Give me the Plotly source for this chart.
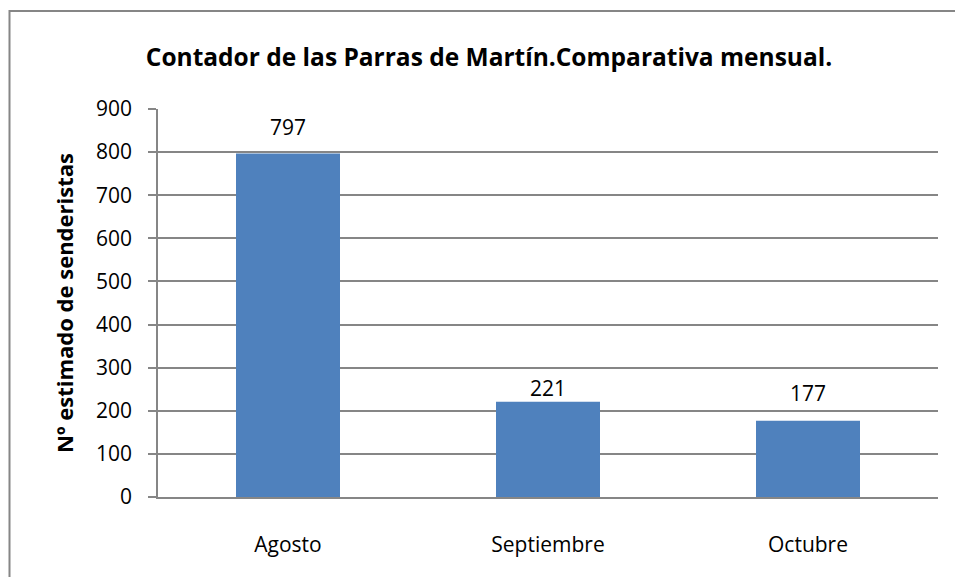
import plotly.graph_objects as go

categories = ["Agosto", "Septiembre", "Octubre"]
values = [797, 221, 177]
y_ticks = [0, 100, 200, 300, 400, 500, 600, 700, 800, 900]

title_text = "Contador de las Parras de Martín.Comparativa mensual."
y_title = "Nº estimado de senderistas"

W, H = 955, 577
L, R, T, B = 158, 17, 109, 80
pw, ph = W - L - R, H - T - B
FONT = "Open Sans, sans-serif"
label_shifts = [10, -2, 12]

def px_x(x):
    return (x - L) / pw

def px_y(y):
    return (H - B - y) / ph

fig = go.Figure()
fig.add_trace(go.Bar(
    x=categories, y=values, width=0.4,
    marker=dict(color="#4F81BD", line=dict(width=0)),
    hoverinfo="skip",
))

annotations = [
    dict(x=c, y=v, xref="x", yref="y", text=str(v), showarrow=False,
         yanchor="bottom", yshift=s, font=dict(family=FONT, size=21, color="#000000"))
    for c, v, s in zip(categories, values, label_shifts)
]

fig.update_layout(
    width=W, height=H,
    margin=dict(l=L, r=R, t=T, b=B),
    paper_bgcolor="white", plot_bgcolor="white",
    showlegend=False,
    title=dict(text="<b>" + title_text + "</b>", x=px_x(489), xref="paper", xanchor="center",
               y=1 - 57 / H, yanchor="middle",
               font=dict(family=FONT, size=24.5, color="#000000")),
    bargap=0.6,
    annotations=annotations,
    shapes=[dict(type="rect", xref="paper", yref="paper",
                 x0=px_x(9.5), x1=px_x(980), y0=px_y(600), y1=px_y(11),
                 line=dict(color="#868686", width=2), fillcolor="rgba(0,0,0,0)", layer="below")],
)

fig.update_xaxes(
    showgrid=False, showline=True, linecolor="#868686", linewidth=2,
    ticks="", tickfont=dict(family=FONT, size=21, color="#000000"),
    ticklabelstandoff=28,
)
fig.update_yaxes(
    range=[0, 900], tickvals=y_ticks, showgrid=True, gridcolor="#868686", gridwidth=1.5,
    showline=True, linecolor="#868686", linewidth=1.5,
    ticks="outside", ticklen=8, tickcolor="#868686", tickwidth=1.5,
    tickfont=dict(family=FONT, size=21, color="#000000"),
    ticklabelstandoff=12,
    title=dict(text="<b>" + y_title + "</b>", standoff=16,
               font=dict(family=FONT, size=22, color="#000000")),
    zeroline=False,
)

fig.write_html("out.html", config={"displayModeBar": False},
               post_script="document.body.style.margin='0';document.body.style.overflow='hidden';")
